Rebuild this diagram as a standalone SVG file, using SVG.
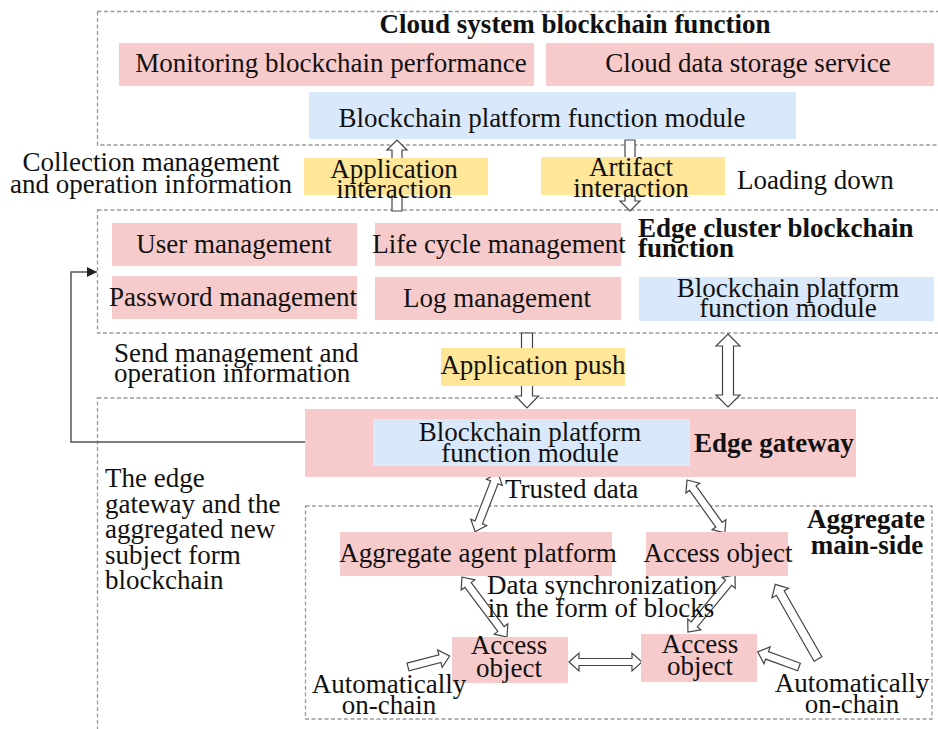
<svg xmlns="http://www.w3.org/2000/svg" width="938" height="729" viewBox="0 0 938 729">
  <defs>
    <style>
      .frame { fill: none; stroke: #9a9a9a; stroke-width: 1.3; stroke-dasharray: 4 2.5; }
      .pink { fill: #f7cbcb; }
      .blue { fill: #dae8fb; }
      .yellow { fill: #ffe699; }
      .t { font-family: "Liberation Serif", serif; font-size: 27px; font-weight: 400; font-style: normal; fill: #111; }
      .b { font-weight: 700; }
      .c { text-anchor: middle; }
      .arr { fill: #fff; stroke: #444; stroke-width: 1.2; stroke-linejoin: miter; }
      .link { fill: none; stroke: #555; stroke-width: 1.5; }
    </style>
    <marker id="tip" viewBox="0 0 10 10" refX="10" refY="5" markerWidth="10" markerHeight="10" markerUnits="userSpaceOnUse" orient="auto">
      <path d="M0,0 L10,5 L0,10 Z" fill="#222"/>
    </marker>
  </defs>

  <rect width="938" height="729" fill="#fff"/>

  <!-- layer frames -->
  <g id="frames">
    <rect class="frame" x="97.5" y="11.5" width="850" height="133.5"/>
    <rect class="frame" x="97.5" y="210" width="850" height="123"/>
    <rect class="frame" x="97.5" y="398" width="850" height="340"/>
    <rect class="frame" x="305.5" y="506" width="626.5" height="213"/>
  </g>

  <!-- connectors -->
  <g id="connectors">
    <path class="link" d="M305,442 H71 V272 H97" marker-end="url(#tip)"/>
    <!-- cloud <-> edge cluster -->
    <path class="arr" transform="translate(397,211) rotate(-90)" d="M0,-5 H61 V-10 L71,0 L61,10 V5 H0 Z"/>
    <path class="arr" transform="translate(630,140) rotate(90)" d="M0,-5 H61 V-10 L71,0 L61,10 V5 H0 Z"/>
    <!-- edge cluster -> gateway -->
    <path class="arr" transform="translate(527,333) rotate(90)" d="M0,-5.5 H63 V-11.5 L75,0 L63,11.5 V5.5 H0 Z"/>
    <path class="arr" transform="translate(728,334) rotate(90)" d="M0,0 L12,-12 V-5.5 H61 V-12 L73,0 L61,12 V5.5 H12 V12 Z"/>
    <!-- gateway <-> aggregate side -->
    <path class="arr" transform="translate(498,473) rotate(111.3)" d="M0,0 L10,-8.5 V-4 H53 V-8.5 L63,0 L53,8.5 V4 H10 V8.5 Z"/>
    <path class="arr" transform="translate(687,480) rotate(54.4)" d="M0,0 L10,-8.5 V-4 H55 V-8.5 L65,0 L55,8.5 V4 H10 V8.5 Z"/>
    <!-- block synchronisation -->
    <path class="arr" transform="translate(462,577) rotate(53.1)" d="M0,0 L10,-8.5 V-4 H65 V-8.5 L75,0 L65,8.5 V4 H10 V8.5 Z"/>
    <path class="arr" transform="translate(735,575) rotate(129.5)" d="M0,0 L10,-8.5 V-4 H64 V-8.5 L74,0 L64,8.5 V4 H10 V8.5 Z"/>
    <path class="arr" transform="translate(569,662)" d="M0,0 L10,-9 V-3.5 H63 V-9 L73,0 L63,9 V3.5 H10 V9 Z"/>
    <!-- automatic on-chain -->
    <path class="arr" transform="translate(408,667) rotate(-14.7)" d="M0,-4 H33 V-9 L43,0 L33,9 V4 H0 Z"/>
    <path class="arr" transform="translate(799,667) rotate(-159.9)" d="M0,-4 H34 V-9 L44,0 L34,9 V4 H0 Z"/>
    <path class="arr" transform="translate(818,659) rotate(-119.8)" d="M0,-4.5 H76 V-9.5 L86,0 L76,9.5 V4.5 H0 Z"/>
  </g>

  <!-- cloud layer -->
  <g id="cloud-title"><text class="t b c" x="575" y="33">Cloud system blockchain function</text></g>
  <g id="monitoring">
    <rect class="pink" x="119" y="43" width="415" height="43"/>
    <text class="t c" x="331" y="72">Monitoring blockchain performance</text>
  </g>
  <g id="cloud-storage">
    <rect class="pink" x="546" y="43" width="388" height="43"/>
    <text class="t c" x="748" y="72">Cloud data storage service</text>
  </g>
  <g id="cloud-platform">
    <rect class="blue" x="309" y="92" width="487" height="47"/>
    <text class="t c" x="542" y="127">Blockchain platform function module</text>
  </g>

  <!-- interaction between cloud and edge cluster -->
  <g id="collection-label">
    <text class="t c" x="151" y="171">Collection management</text>
    <text class="t c" x="151" y="193">and operation information</text>
  </g>
  <g id="application-interaction">
    <rect class="yellow" x="304" y="158" width="184" height="37"/>
    <text class="t c" x="394" y="178">Application</text>
    <text class="t c" x="394" y="198">interaction</text>
  </g>
  <g id="artifact-interaction">
    <rect class="yellow" x="541" y="157" width="184" height="38"/>
    <text class="t c" x="631" y="176">Artifact</text>
    <text class="t c" x="631" y="197">interaction</text>
  </g>
  <g id="loading-label"><text class="t" x="737" y="189">Loading down</text></g>

  <!-- edge cluster layer -->
  <g id="user-management">
    <rect class="pink" x="112" y="223" width="245" height="43"/>
    <text class="t c" x="234" y="253">User management</text>
  </g>
  <g id="password-management">
    <rect class="pink" x="112" y="276" width="245" height="43"/>
    <text class="t c" x="233" y="306">Password management</text>
  </g>
  <g id="lifecycle-management">
    <rect class="pink" x="375" y="223" width="246" height="43"/>
    <text class="t c" x="499" y="253">Life cycle management</text>
  </g>
  <g id="log-management">
    <rect class="pink" x="375" y="277" width="246" height="43"/>
    <text class="t c" x="497" y="307">Log management</text>
  </g>
  <g id="edge-cluster-title">
    <text class="t b" x="638" y="237">Edge cluster blockchain</text>
    <text class="t b" x="638" y="257">function</text>
  </g>
  <g id="edge-platform">
    <rect class="blue" x="639" y="277" width="295" height="44"/>
    <text class="t c" x="788" y="297">Blockchain platform</text>
    <text class="t c" x="788" y="317">function module</text>
  </g>

  <!-- edge cluster to gateway -->
  <g id="send-label">
    <text class="t" x="114" y="362">Send management and</text>
    <text class="t" x="114" y="382">operation information</text>
  </g>
  <g id="application-push">
    <rect class="yellow" x="441" y="348" width="184" height="38"/>
    <text class="t c" x="533" y="374">Application push</text>
  </g>

  <!-- gateway layer -->
  <g id="edge-gateway">
    <rect class="pink" x="305" y="409" width="551" height="68"/>
    <rect class="blue" x="373" y="419" width="317" height="47"/>
    <text class="t c" x="530" y="441">Blockchain platform</text>
    <text class="t c" x="530" y="462">function module</text>
    <text class="t b" x="694" y="452">Edge gateway</text>
  </g>
  <g id="gateway-note">
    <text class="t" x="105" y="487">The edge</text>
    <text class="t" x="105" y="513">gateway and the</text>
    <text class="t" x="105" y="538">aggregated new</text>
    <text class="t" x="105" y="564">subject form</text>
    <text class="t" x="105" y="589">blockchain</text>
  </g>
  <g id="trusted-label"><text class="t" x="505" y="498">Trusted data</text></g>

  <!-- aggregate main-side -->
  <g id="aggregate-title">
    <text class="t b c" x="866" y="528">Aggregate</text>
    <text class="t b c" x="867" y="554">main-side</text>
  </g>
  <g id="agent-platform">
    <rect class="pink" x="340" y="532" width="272" height="44"/>
    <text class="t c" x="478" y="562">Aggregate agent platform</text>
  </g>
  <g id="access-object-top">
    <rect class="pink" x="646" y="532" width="142" height="44"/>
    <text class="t c" x="718" y="562">Access object</text>
  </g>
  <g id="sync-label">
    <text class="t c" x="602" y="594">Data synchronization</text>
    <text class="t c" x="601" y="617">in the form of blocks</text>
  </g>
  <g id="access-object-left">
    <rect class="pink" x="452" y="637" width="116" height="46"/>
    <text class="t c" x="509" y="654">Access</text>
    <text class="t c" x="509" y="677">object</text>
  </g>
  <g id="access-object-right">
    <rect class="pink" x="641" y="634" width="116" height="48"/>
    <text class="t c" x="700" y="653">Access</text>
    <text class="t c" x="700" y="675">object</text>
  </g>
  <g id="auto-left">
    <text class="t c" x="389" y="693">Automatically</text>
    <text class="t c" x="389" y="714">on-chain</text>
  </g>
  <g id="auto-right">
    <text class="t c" x="852" y="692">Automatically</text>
    <text class="t c" x="852" y="713">on-chain</text>
  </g>
</svg>
